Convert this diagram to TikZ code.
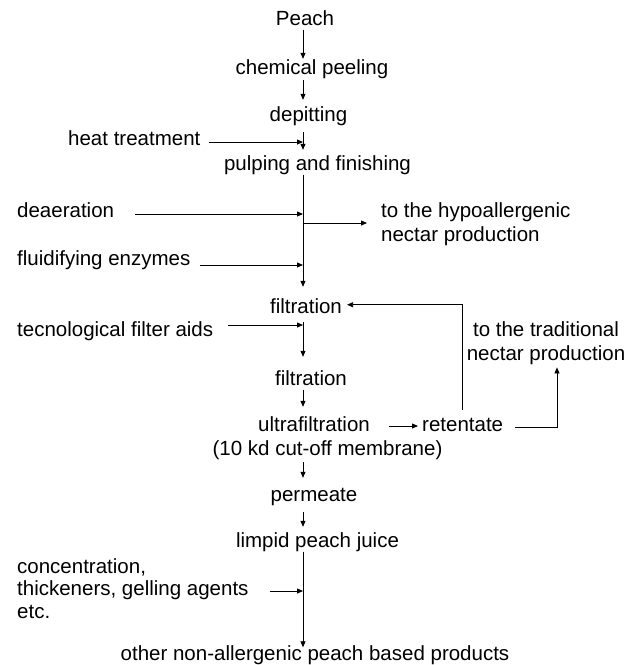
\documentclass[tikz,border=0pt]{standalone}
\usepackage{fontspec}
\setmainfont{Liberation Sans}
\usetikzlibrary{arrows.meta}
\newcommand\lblfont{\fontsize{20.5}{24}\selectfont}
\begin{document}
\begin{tikzpicture}[x=1pt,y=-1pt,
  lbl/.style={inner sep=0pt, text height=15pt, text depth=4.5pt, anchor=base, font=\lblfont},
  lblw/.style={lbl, anchor=base west},
  multi/.style={inner sep=0pt, anchor=base, font=\lblfont},
  arr/.style={-{Triangle[length=6pt,width=5pt]}, line width=0.8pt}]
\useasboundingbox (0,0) rectangle (637,665);

\node[lbl] (peach) at (305,25) {Peach};
\node[lbl] (chem) at (312,74) {chemical peeling};
\node[lbl] (depit) at (308.5,121) {depitting};
\node[lblw] (heat) at (68,145) {heat treatment};
\node[lbl] (pulp) at (317.5,170) {pulping and finishing};
\node[lblw] (deaer) at (17,217) {deaeration};
\node[multi, anchor=base west] (hypo) at (381,217) {\begin{tabular}[t]{@{}l@{}}to the hypoallergenic\\nectar production\end{tabular}};
\node[lblw] (fluid) at (17,265) {fluidifying enzymes};
\node[lbl] (filt1) at (306,313) {filtration};
\node[lblw] (tech) at (17,336) {tecnological filter aids};
\node[multi] (trad) at (546,336) {\begin{tabular}[t]{@{}c@{}}to the traditional\\nectar production\end{tabular}};
\node[lbl] (filt2) at (311,385) {filtration};
\node[lbl] (ultra) at (314,431) {ultrafiltration};
\node[lbl] (memb) at (327.5,455) {(10 kd cut-off membrane)};
\node[lblw] (ret) at (422,431) {retentate};
\node[lbl] (perm) at (314,501) {permeate};
\node[lbl] (limpid) at (317.5,547) {limpid peach juice};
\node[multi, anchor=base west] (conc) at (17,573) {\renewcommand\arraystretch{0.94}\begin{tabular}[t]{@{}l@{}}concentration,\\thickeners, gelling agents\\etc.\end{tabular}};
\node[lbl] (other) at (315,660.5) {other non-allergenic peach based products};

\coordinate (axis) at (303,0);
% main flow
\draw[arr] (peach.south -| axis) -- (chem.north -| axis);
\draw[arr, shorten <=1.5pt, shorten >=6pt] (chem.south -| axis) -- (depit.north -| axis);
\draw[arr, shorten <=6.5pt, shorten >=5pt] (depit.south -| axis) -- (pulp.north -| axis);
\draw[arr, shorten >=11pt] (pulp.south -| axis) -- (filt1.north -| axis);
\draw[arr, shorten <=4.5pt, shorten >=13pt] (filt1.south -| axis) -- (filt2.north -| axis);
\draw[arr, shorten >=9pt] (filt2.south -| axis) -- (ultra.north -| axis);
\draw[arr, shorten <=2.5pt, shorten >=8pt] (memb.south -| axis) -- (perm.north -| axis);
\draw[arr, shorten <=6.5pt, shorten >=5pt] (perm.south -| axis) -- (limpid.north -| axis);
\draw[arr, shorten >=-2pt] (limpid.south -| axis) -- (other.north -| axis);

% side inputs
\coordinate (heatA) at ([shift={(8pt,3pt)}]heat.base east);
\coordinate (deaerA) at ([shift={(21pt,3pt)}]deaer.base east);
\coordinate (fluidA) at ([shift={(9pt,0pt)}]fluid.base east);
\coordinate (techA) at ([shift={(15pt,11pt)}]tech.base east);
\coordinate (concA) at ([shift={(253pt,-18pt)}]conc.base west);
\draw[arr] (heatA) -- (heatA -| axis);
\draw[arr] (deaerA) -- (deaerA -| axis);
\draw[arr] (fluidA) -- (fluidA -| axis);
\draw[arr] (techA) -- (techA -| axis);
\draw[arr] (concA) -- (concA -| axis);

% branch to hypoallergenic
\coordinate (hypoA) at ([shift={(-14pt,-6pt)}]hypo.base west);
\draw[arr] (hypoA -| axis) -- (hypoA);

% ultrafiltration -> retentate
\draw[arr] ([shift={(19pt,5pt)}]ultra.base east) -- ([shift={(-4pt,5pt)}]ret.base west);
% retentate -> traditional
\draw[arr] ([shift={(12pt,4pt)}]ret.base east) -| ([xshift=11pt]trad.south);
% retentate -> filtration (recycle)
\draw[arr, shorten >=5pt] ([yshift=6pt]ret.north) |- ([yshift=3pt]filt1.east);
\end{tikzpicture}
\end{document}
